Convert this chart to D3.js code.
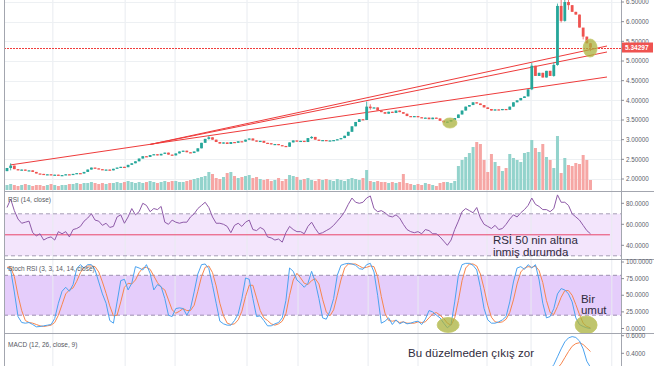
<!DOCTYPE html>
<html>
<head>
<meta charset="utf-8">
<script src="https://cdn.jsdelivr.net/npm/d3@7"></script>
<style>
  body { margin: 0; background: #fff; }
  svg { display: block; font-family: "Liberation Sans", Arial, sans-serif; }
</style>
</head>
<body>
<svg id="chart"></svg>
<script>
// daily closes, each candle opens at the previous close
var firstOpen = 2.20;
var closes = [
  2.28, 2.34, 2.25, 2.22, 2.24, 2.21, 2.22, 2.18, 2.14, 2.13,
  2.11, 2.12, 2.10, 2.11, 2.09, 2.10, 2.12, 2.11, 2.13, 2.15,
  2.14, 2.18, 2.24, 2.29, 2.27, 2.25, 2.23, 2.24, 2.22, 2.26,
  2.29, 2.31, 2.30, 2.36, 2.40, 2.45, 2.52, 2.58, 2.56, 2.61,
  2.63, 2.60, 2.64, 2.67, 2.62, 2.60, 2.65, 2.70, 2.72, 2.68,
  2.66, 2.70, 2.78, 2.92, 3.02, 3.06, 3.00, 2.94, 2.90, 2.93,
  2.89, 2.94, 2.92, 2.96, 2.95, 3.00, 3.03, 2.98, 2.95, 2.97,
  2.92, 2.91, 2.88, 2.89, 2.86, 2.84, 2.82, 2.93, 2.98, 2.95,
  2.97, 2.94, 3.04, 3.07, 3.00, 2.98, 2.99, 2.97, 2.98, 2.99,
  3.01, 3.04, 3.10, 3.20, 3.34, 3.45, 3.52, 3.50, 3.84, 3.80,
  3.82, 3.74, 3.70, 3.66, 3.71, 3.68, 3.74, 3.70, 3.66, 3.60,
  3.58, 3.60, 3.57, 3.55, 3.56, 3.52, 3.56, 3.54, 3.48, 3.44,
  3.46, 3.50, 3.55, 3.64, 3.74, 3.84, 3.88, 3.95, 3.92, 3.88,
  3.82, 3.78, 3.74, 3.77, 3.75, 3.78, 3.76, 3.84, 3.95, 4.00,
  4.06, 4.10, 4.28, 4.88, 4.62, 4.70, 4.58, 4.75, 4.62, 4.90,
  6.40, 6.02, 6.50, 6.42, 6.25, 6.18, 5.85, 5.62, 5.45, 5.34297
];

// visible wicks: [candle, high, low]
var wicks = [
  [1, 2.40, 2.22], [55, 3.09, 3.00], [83, 3.09, 3.02], [98, 3.97, 3.50],
  [99, 3.90, 3.76], [143, 4.95, 4.26], [149, 4.96, 4.60], [150, 6.46, 4.88],
  [151, 6.56, 5.98], [152, 6.56, 6.00], [153, 6.58, 6.30], [157, 5.72, 5.55],
  [159, 5.46, 5.25]
];

var volumes = [
  5, 6, 5, 4, 5, 6, 5, 4, 5, 5, 4, 5, 6, 5, 4, 5,
  5, 6, 6, 7, 6, 7, 7, 8, 7, 6, 7, 6, 7, 7, 8,
  7, 8, 9, 8, 7, 8, 7, 8, 9, 8, 7, 8, 9, 8, 9,
  9, 8, 8, 9, 10, 11, 12, 13, 14, 18, 16, 12, 11, 13, 17,
  18, 14, 12, 13, 14, 15, 12, 13, 11, 10, 11, 9, 10, 12, 9,
  11, 15, 14, 13, 10, 11, 12, 10, 9, 11, 10, 11, 10, 9, 11,
  10, 9, 11, 12, 11, 10, 12, 20, 9, 8, 9, 8, 8, 7, 8,
  7, 8, 16, 7, 6, 5, 6, 5, 7, 6, 5, 4, 7, 8, 8,
  7, 9, 24, 30, 33, 37, 43, 48, 46, 30, 18, 36, 28, 24, 19,
  22, 36, 32, 30, 28, 37, 38, 50, 42, 38, 46, 33, 30, 22, 54,
  17, 32, 25, 24, 27, 26, 35, 30, 10
];

var rsiValues = [
  76, 84, 73, 65, 61, 62, 63, 52, 49, 51,
  45, 47, 48, 45, 53, 51, 53, 48, 55, 56,
  58, 63, 66, 70, 64, 63, 59, 61, 57, 58,
  67, 69, 61, 67, 75, 69, 72, 80, 78, 72,
  75, 74, 77, 62, 60, 64, 62, 61, 62, 62,
  67, 70, 75, 78, 81, 76, 67, 61, 61, 60,
  58, 52, 59, 61, 58, 62, 64, 55, 54, 57,
  55, 48, 47, 45, 46, 43, 52, 58, 55, 53,
  53, 51, 58, 62, 56, 51, 52, 54, 56, 59,
  63, 67, 72, 79, 85, 81, 80, 81, 85, 87,
  75, 72, 73, 71, 68, 67, 69, 66, 60, 55,
  53, 52, 53, 51, 55, 54, 51, 51, 48, 44,
  40, 45, 55, 63, 72, 75, 73, 71, 76, 66,
  60, 58, 56, 59, 55, 56, 60, 65, 69, 67,
  71, 74, 78, 85, 79, 77, 74, 74, 72, 75,
  88, 81, 81, 78, 70, 67, 64, 59, 54, 51
];

var stochK = [
  91, 88, 55, 18, 9, 8, 9, 6, 2.5, 3,
  4, 5, 6, 15, 38, 56, 62, 56, 66, 90,
  96, 91, 96, 96, 88, 70, 52, 38, 12, 8,
  40, 72, 74, 58, 68, 93, 91, 88, 96, 83,
  58, 66, 63, 45, 20, 18, 30, 31, 30, 20,
  30, 55, 82, 96, 97, 90, 65, 38, 11, 7,
  5, 5, 12, 22, 45, 76, 74, 45, 18, 19,
  12, 4, 4, 7, 9, 16, 42, 91, 86, 73,
  68, 62, 68, 86, 70, 45, 16, 14, 26, 45,
  80, 95, 97, 98, 97, 95, 90, 89, 96, 98,
  85, 50, 8, 11, 16, 6, 13, 7, 10, 7,
  8, 10, 11, 6, 14, 27, 25, 20, 16, 8,
  1, 6, 40, 80, 96, 98, 98, 95, 88, 62,
  30, 13, 8, 8, 10, 13, 18, 40, 70, 91,
  93, 89, 96, 91, 96, 73, 38, 16, 18, 30,
  52, 60, 58, 52, 40, 16, 6, 3, 1, 0
];

var stochD = [
  92, 92, 78, 50, 27, 12, 9, 8, 6, 4,
  3, 4, 5, 9, 20, 36, 52, 58, 61, 71,
  84, 92, 94, 94, 93, 85, 70, 53, 34, 19,
  20, 40, 62, 68, 67, 73, 84, 91, 92, 89,
  79, 69, 62, 58, 43, 28, 23, 26, 30, 27,
  27, 35, 56, 78, 92, 94, 84, 64, 38, 19,
  8, 6, 7, 13, 26, 48, 65, 65, 46, 27,
  16, 12, 7, 5, 7, 11, 22, 50, 73, 83,
  76, 68, 66, 72, 75, 67, 44, 25, 19, 28,
  50, 73, 91, 97, 97, 97, 94, 91, 92, 94,
  93, 78, 48, 23, 12, 11, 12, 9, 10, 8,
  8, 8, 10, 9, 10, 16, 22, 24, 20, 15,
  8, 5, 16, 42, 72, 91, 97, 97, 94, 82,
  60, 35, 17, 10, 9, 10, 14, 24, 43, 67,
  85, 91, 93, 92, 94, 87, 69, 42, 24, 21,
  33, 47, 57, 57, 50, 36, 21, 8, 3, 1
];

// only the top of the MACD pane is in view
var macdStart = 146;
var macdLine = [0.16, 0.19, 0.22, 0.27, 0.36, 0.45, 0.53, 0.575, 0.59, 0.58, 0.54, 0.45, 0.31, 0.24];
var signalLine = [0.12, 0.14, 0.16, 0.19, 0.23, 0.28, 0.35, 0.42, 0.48, 0.51, 0.52, 0.50, 0.46, 0.42];

var priceTicks = [6.5, 6.0, 5.5, 5.0, 4.5, 4.0, 3.5, 3.0, 2.5, 2.0];
var rsiTicks = [80, 60, 40];
var stochTicks = [100, 75, 50, 25, 0];
var macdTicks = [0.6, 0.4];
var timeTicks = [12.5, 32.2, 45.8, 65.4, 79.3, 98.4, 112, 130.8, 142.8, 164.8];
var lastPrice = 5.34297;

// drawn trend lines: [[candle, price], [candle, price]]
var trendLines = [
  [[0.8, 2.356], [163.5, 4.593]],
  [[39, 2.878], [163.5, 5.381]],
  [[39, 2.878], [163.5, 5.229]]
];

// green markers: [pane, candle, value, rx, ry]
var highlights = [
  ['price', 120.7, 3.424, 7, 5],
  ['price', 158.9, 5.33, 7, 9],
  ['stoch', 120.2, 5.3, 11, 7.5],
  ['stoch', 157.8, 5.3, 11, 9]
];

var width = 654;
var height = 366;
var left = 4;
var right = 621;

var svg = d3.select('#chart')
  .attr('width', width)
  .attr('height', height);

svg.append('rect').attr('width', width).attr('height', height).attr('fill', '#fff');

// Scales
var x = d3.scaleLinear().domain([0, 159]).range([7, 590.5]);
var yPrice = d3.scaleLinear().domain([2, 6.5]).range([179, 2]);
var yVol = d3.scaleLinear().domain([0, 60]).range([190, 130]);
var yRsi = d3.scaleLinear().domain([40, 80]).range([245.3, 203.3]);
var yStoch = d3.scaleLinear().domain([0, 100]).range([328.5, 262]);
var yMacd = d3.scaleLinear().domain([0.4, 0.6]).range([353.3, 335.7]);

var panes = {
  price: {top: 0, bottom: 191, y: yPrice},
  rsi: {top: 191, bottom: 259, y: yRsi},
  stoch: {top: 259, bottom: 333, y: yStoch},
  macd: {top: 333, bottom: 366, y: yMacd}
};

var defs = svg.append('defs');
Object.keys(panes).forEach(function (name) {
  var p = panes[name];
  defs.append('clipPath').attr('id', 'clip-' + name)
    .append('rect')
    .attr('x', left).attr('y', p.top)
    .attr('width', right - left).attr('height', p.bottom - p.top);
});

function layer(name) {
  return svg.append('g').attr('clip-path', 'url(#clip-' + name + ')');
}

// Bands
svg.append('rect')
  .attr('x', left).attr('width', right - left)
  .attr('y', yRsi(70)).attr('height', yRsi(30) - yRsi(70))
  .attr('fill', '#f3e5fc');
svg.append('rect')
  .attr('x', left).attr('width', right - left)
  .attr('y', yStoch(80)).attr('height', yStoch(20) - yStoch(80))
  .attr('fill', '#e5cdfb');

// Grid
svg.append('g').selectAll('line')
  .data(timeTicks)
  .enter().append('line')
  .attr('x1', function (d) { return x(d); })
  .attr('x2', function (d) { return x(d); })
  .attr('y1', 0).attr('y2', height)
  .attr('stroke', '#e8ebf0').attr('stroke-width', 1);

svg.append('g').selectAll('line')
  .data(priceTicks)
  .enter().append('line')
  .attr('x1', left).attr('x2', right)
  .attr('y1', function (d) { return Math.round(yPrice(d)) + 0.5; })
  .attr('y2', function (d) { return Math.round(yPrice(d)) + 0.5; })
  .attr('stroke', '#edf0f3');

// Candles
var candles = closes.map(function (close, i) {
  var open = i === 0 ? firstOpen : closes[i - 1];
  return {i: i, open: open, close: close, high: Math.max(open, close), low: Math.min(open, close), vol: volumes[i]};
});
wicks.forEach(function (w) {
  candles[w[0]].high = w[1];
  candles[w[0]].low = w[2];
});

var up = '#26a69a';
var down = '#ef5350';

var priceLayer = layer('price');

priceLayer.selectAll('.vol')
  .data(candles)
  .enter().append('rect')
  .attr('x', function (d) { return x(d.i) - 1.5; })
  .attr('width', 3)
  .attr('y', function (d) { return yVol(d.vol); })
  .attr('height', function (d) { return yVol(0) - yVol(d.vol); })
  .attr('fill', function (d) { return d.close >= d.open ? '#93d3cc' : '#f6a6a4'; });

// Trend lines and last price line
priceLayer.selectAll('.trend')
  .data(trendLines)
  .enter().append('line')
  .attr('x1', function (d) { return x(d[0][0]); })
  .attr('y1', function (d) { return yPrice(d[0][1]); })
  .attr('x2', function (d) { return x(d[1][0]); })
  .attr('y2', function (d) { return yPrice(d[1][1]); })
  .attr('stroke', '#ee3b3b').attr('stroke-width', 1);

priceLayer.append('line')
  .attr('x1', left).attr('x2', right)
  .attr('y1', Math.round(yPrice(lastPrice)) + 0.5).attr('y2', Math.round(yPrice(lastPrice)) + 0.5)
  .attr('stroke', '#f03c3c').attr('stroke-width', 1)
  .attr('stroke-dasharray', '2,1');

priceLayer.selectAll('.wick')
  .data(candles)
  .enter().append('line')
  .attr('x1', function (d) { return x(d.i); })
  .attr('x2', function (d) { return x(d.i); })
  .attr('y1', function (d) { return yPrice(d.high); })
  .attr('y2', function (d) { return yPrice(d.low); })
  .attr('stroke', function (d) { return d.close >= d.open ? up : down; })
  .attr('stroke-width', 0.8);

priceLayer.selectAll('.body')
  .data(candles)
  .enter().append('rect')
  .attr('x', function (d) { return x(d.i) - 1.4; })
  .attr('width', 2.8)
  .attr('y', function (d) { return yPrice(Math.max(d.open, d.close)); })
  .attr('height', function (d) { return Math.max(1.2, Math.abs(yPrice(d.open) - yPrice(d.close))); })
  .attr('fill', function (d) { return d.close >= d.open ? up : down; });

// RSI
var rsiLayer = layer('rsi');
[70, 30].forEach(function (v) {
  rsiLayer.append('line')
    .attr('x1', left).attr('x2', right)
    .attr('y1', yRsi(v)).attr('y2', yRsi(v))
    .attr('stroke', '#a59db5').attr('stroke-dasharray', '4,3');
});
rsiLayer.append('line')
  .attr('x1', left).attr('x2', x(164.3))
  .attr('y1', yRsi(50)).attr('y2', yRsi(50))
  .attr('stroke', '#e8456a').attr('stroke-width', 1);
rsiLayer.append('path')
  .datum(rsiValues)
  .attr('fill', 'none')
  .attr('stroke', '#8e5aa8')
  .attr('stroke-width', 1)
  .attr('d', d3.line().x(function (d, i) { return x(i); }).y(function (d) { return yRsi(d); }));

// Stoch RSI
var stochLayer = layer('stoch');
[80, 20].forEach(function (v) {
  stochLayer.append('line')
    .attr('x1', left).attr('x2', right)
    .attr('y1', yStoch(v)).attr('y2', yStoch(v))
    .attr('stroke', '#9c8fb0').attr('stroke-dasharray', '4,3');
});
stochLayer.append('path')
  .datum(stochD)
  .attr('fill', 'none').attr('stroke', '#f7864e').attr('stroke-width', 1)
  .attr('d', d3.line().x(function (d, i) { return x(i); }).y(function (d) { return yStoch(d); }));
stochLayer.append('path')
  .datum(stochK)
  .attr('fill', 'none').attr('stroke', '#4ba3f0').attr('stroke-width', 1)
  .attr('d', d3.line().x(function (d, i) { return x(i); }).y(function (d) { return yStoch(d); }));

// MACD
var macdLayer = layer('macd');
macdLayer.append('path')
  .datum(signalLine)
  .attr('fill', 'none').attr('stroke', '#f7864e').attr('stroke-width', 1)
  .attr('d', d3.line().x(function (d, i) { return x(macdStart + i); }).y(function (d) { return yMacd(d); }));
macdLayer.append('path')
  .datum(macdLine)
  .attr('fill', 'none').attr('stroke', '#4ba3f0').attr('stroke-width', 1)
  .attr('d', d3.line().x(function (d, i) { return x(macdStart + i); }).y(function (d) { return yMacd(d); }));

// Green markers
highlights.forEach(function (h) {
  layer(h[0]).append('ellipse')
    .attr('cx', x(h[1]))
    .attr('cy', panes[h[0]].y(h[2]))
    .attr('rx', h[3]).attr('ry', h[4])
    .attr('fill', '#a9b23c').attr('fill-opacity', 0.75)
    .attr('stroke', '#c4c86a').attr('stroke-width', 0.8);
});

// Frame
[191, 259, 333].forEach(function (y) {
  svg.append('line')
    .attr('x1', left).attr('x2', width)
    .attr('y1', y + 0.5).attr('y2', y + 0.5)
    .attr('stroke', '#a3a6af');
});
svg.append('line')
  .attr('x1', right + 0.5).attr('x2', right + 0.5)
  .attr('y1', 0).attr('y2', height)
  .attr('stroke', '#a3a6af');
svg.append('line')
  .attr('x1', left + 0.5).attr('x2', left + 0.5)
  .attr('y1', 0).attr('y2', height)
  .attr('stroke', '#a3a6af');

// Right axis labels
function axisLabels(ticks, scale, fmt) {
  var g = svg.append('g');
  g.selectAll('line')
    .data(ticks)
    .enter().append('line')
    .attr('x1', right).attr('x2', right + 3)
    .attr('y1', function (d) { return scale(d); })
    .attr('y2', function (d) { return scale(d); })
    .attr('stroke', '#8a8d96');
  g.selectAll('text')
    .data(ticks)
    .enter().append('text')
    .attr('x', right + 5)
    .attr('y', function (d) { return scale(d); })
    .attr('dy', '0.35em')
    .attr('font-size', 6.3)
    .attr('fill', '#5d606b')
    .text(function (d) { return d3.format(fmt)(d); });
}
axisLabels(priceTicks, yPrice, '.5f');
axisLabels(rsiTicks, yRsi, '.4f');
axisLabels(stochTicks, yStoch, '.4f');
axisLabels(macdTicks, yMacd, '.4f');

svg.append('rect')
  .attr('x', right + 1).attr('y', yPrice(lastPrice) - 5)
  .attr('width', 31).attr('height', 10)
  .attr('fill', '#ef5350');
svg.append('text')
  .attr('x', right + 4).attr('y', yPrice(lastPrice))
  .attr('dy', '0.35em')
  .attr('font-size', 6.5).attr('font-weight', 'bold')
  .attr('fill', '#fff')
  .text(d3.format('.5f')(lastPrice));

// Pane titles
[['RSI (14, close)', 201.5], ['Stoch RSI (3, 3, 14, 14, close)', 270.5], ['MACD (12, 26, close, 9)', 346.5]].forEach(function (t) {
  svg.append('text')
    .attr('x', 8).attr('y', t[1])
    .attr('font-size', 6.5).attr('fill', '#555862')
    .text(t[0]);
});

// Notes
var noteColor = '#2f2a3c';
function note(lines, i, yScale, v, lineGap) {
  var t = svg.append('text')
    .attr('x', x(i)).attr('y', yScale(v))
    .attr('font-size', 11.5).attr('fill', noteColor);
  lines.forEach(function (s, k) {
    t.append('tspan').attr('x', x(i)).attr('dy', k === 0 ? 0 : lineGap).text(s);
  });
}
note(['RSİ 50 nin altına', 'inmiş durumda'], 132.4, yRsi, 40.8, 11.5);
note(['Bir', 'umut'], 156.4, yStoch, 38.8, 11);
note(['Bu düzelmeden çıkış zor'], 109.3, yMacd, 0.358, 0);
</script>
</body>
</html>
